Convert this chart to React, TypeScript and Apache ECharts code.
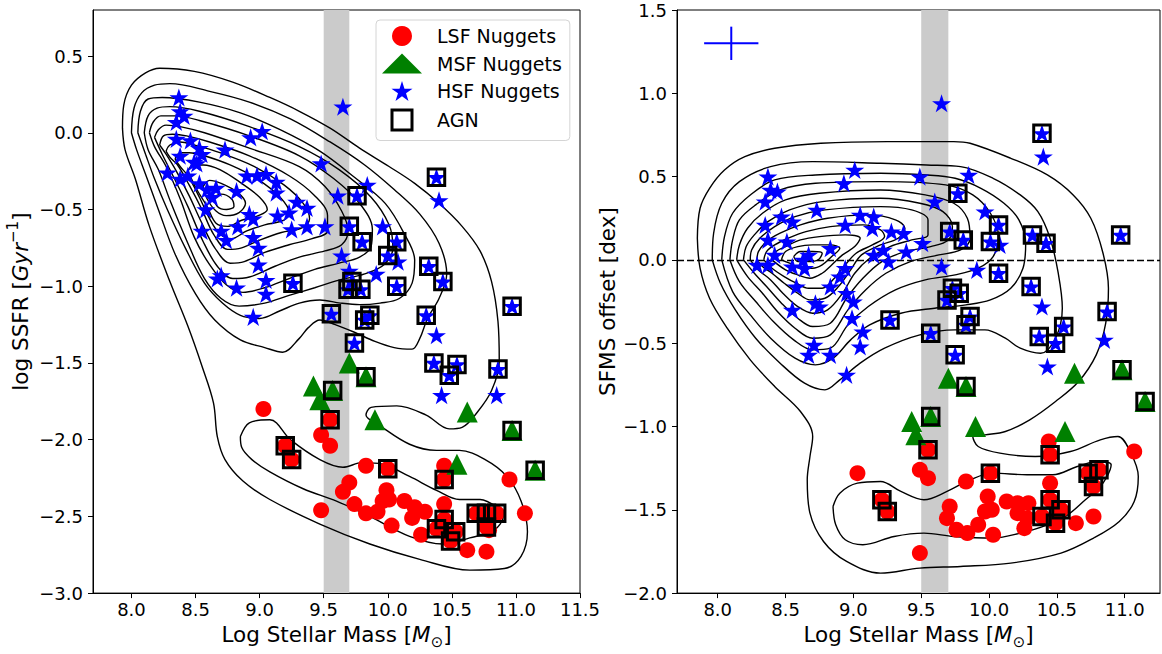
import React, { useEffect, useRef } from 'react';
import * as echarts from 'echarts';

const FF = 'DejaVu Sans';
const STAR = 'path://M0,-1L0.2245,-0.309L0.951,-0.309L0.363,0.118L0.588,0.809L0,0.382L-0.588,0.809L-0.363,0.118L-0.951,-0.309L-0.2245,-0.309Z';
const SQUARE = 'path://M0,0H10V10H0Z';

// ---------- ticks ----------
const xTicksLeft = [8.0, 8.5, 9.0, 9.5, 10.0, 10.5, 11.0, 11.5];
const yTicksLeft = [-3.0, -2.5, -2.0, -1.5, -1.0, -0.5, 0.0, 0.5];
const xTicksRight = [8.0, 8.5, 9.0, 9.5, 10.0, 10.5, 11.0];
const yTicksRight = [-2.0, -1.5, -1.0, -0.5, 0.0, 0.5, 1.0, 1.5];
const xRangeLeft = [7.7, 11.5];
const yRangeLeft = [-3.0, 0.8];
const xRangeRight = [7.7, 11.26];
const yRangeRight = [-2.0, 1.5];
const massBand = [9.5, 9.7];
const errCenter = [8.1, 1.3];
const errX = 0.2;
const errY = 0.1;

// ---------- left panel points (log M*, log SSFR) ----------
const hsfLeft = [[8.37,0.23],[8.38,0.14],[8.41,0.11],[8.35,0.07],[8.35,-0.04],[8.46,-0.05],[8.53,-0.10],[8.55,-0.14],[8.38,-0.15],[8.49,-0.19],[8.73,-0.11],[9.02,0.01],[8.93,-0.03],[8.28,-0.26],[8.38,-0.30],[8.44,-0.28],[8.51,-0.20],[8.53,-0.33],[8.59,-0.37],[8.66,-0.36],[8.63,-0.42],[8.58,-0.50],[8.82,-0.38],[8.90,-0.28],[8.98,-0.28],[9.05,-0.27],[9.13,-0.32],[9.13,-0.39],[8.55,-0.64],[8.70,-0.64],[8.74,-0.70],[8.83,-0.61],[8.92,-0.53],[8.95,-0.56],[8.95,-0.68],[8.99,-0.75],[8.99,-0.86],[8.67,-0.95],[8.70,-0.93],[8.82,-1.01],[9.05,-0.96],[9.05,-1.05],[8.95,-1.20],[9.14,-0.54],[9.23,-0.52],[9.29,-0.45],[9.37,-0.49],[9.25,-0.63],[9.37,-0.61],[9.51,-0.61],[9.48,-0.20],[9.65,0.17],[9.61,-0.41],[9.84,-0.34],[9.96,-0.61],[10.08,-0.84],[9.64,-0.80],[9.91,-0.92],[9.70,-0.90],[10.40,-0.44],[10.38,-1.32],[10.42,-1.71],[10.85,-1.71]];
const hsfAgnLeft = [[9.76,-0.41],[9.70,-0.61],[9.80,-0.71],[10.07,-0.71],[10.00,-0.80],[9.72,-0.97],[9.69,-1.02],[9.79,-1.02],[10.07,-1.00],[9.26,-0.98],[9.56,-1.18],[9.82,-1.22],[9.86,-1.19],[10.30,-1.19],[10.32,-0.87],[10.43,-0.97],[10.38,-0.29],[10.97,-1.13],[9.74,-1.37],[10.36,-1.50],[10.54,-1.51],[10.48,-1.58],[10.86,-1.54]];
const msfLeft = [[9.70,-1.50],[9.42,-1.65],[9.47,-1.74],[9.90,-1.87],[10.62,-1.82],[10.54,-2.16]];
const msfAgnLeft = [[9.83,-1.59],[9.57,-1.68],[10.97,-1.94],[11.15,-2.20]];
const lsfLeft = [[9.03,-1.80],[9.48,-1.97],[9.55,-2.04],[9.83,-2.17],[10.44,-2.17],[10.95,-2.26],[9.70,-2.28],[9.65,-2.34],[9.99,-2.33],[10.13,-2.40],[10.21,-2.44],[10.29,-2.47],[9.74,-2.42],[9.83,-2.48],[9.92,-2.47],[9.96,-2.40],[10.01,-2.39],[10.19,-2.51],[10.03,-2.56],[10.26,-2.62],[10.44,-2.42],[11.07,-2.48],[9.48,-2.46],[10.62,-2.72],[10.77,-2.73],[10.79,-2.59]];
const lsfAgnLeft = [[9.55,-1.87],[9.20,-2.04],[9.25,-2.13],[10.00,-2.19],[10.44,-2.26],[10.69,-2.48],[10.77,-2.48],[10.85,-2.48],[10.77,-2.57],[10.44,-2.52],[10.38,-2.58],[10.53,-2.60],[10.49,-2.66]];

// ---------- right panel points (log M*, SFMS offset) ----------
const hsfRight = [[9.65,0.94],[9.01,0.54],[8.93,0.46],[8.37,0.50],[8.39,0.42],[8.44,0.41],[8.35,0.35],[9.49,0.50],[9.85,0.51],[8.73,0.30],[8.47,0.26],[8.55,0.23],[8.35,0.21],[8.37,0.12],[8.51,0.11],[8.67,0.03],[8.63,0.00],[8.83,0.07],[8.94,0.21],[9.05,0.27],[9.15,0.26],[9.14,0.19],[9.28,0.17],[9.37,0.16],[9.51,0.10],[9.22,0.06],[9.15,0.03],[9.26,-0.01],[9.39,0.05],[8.42,0.03],[8.29,-0.03],[8.37,-0.03],[8.55,-0.04],[8.64,-0.05],[8.94,-0.05],[8.90,-0.10],[8.58,-0.16],[8.83,-0.16],[8.95,-0.20],[9.00,-0.25],[8.72,-0.26],[8.75,-0.28],[8.55,-0.30],[8.99,-0.35],[9.07,-0.43],[9.05,-0.52],[8.71,-0.51],[8.67,-0.57],[8.83,-0.57],[8.95,-0.69],[9.60,0.35],[9.65,-0.04],[9.91,-0.06],[9.97,0.29],[10.08,0.09],[10.40,0.62],[10.39,-0.28],[10.43,-0.64],[10.85,-0.48]];
const hsfAgnRight = [[9.77,0.40],[9.71,0.17],[9.81,0.12],[10.01,0.11],[10.07,0.21],[10.07,-0.08],[9.73,-0.17],[9.78,-0.20],[9.69,-0.24],[9.86,-0.34],[9.83,-0.39],[9.27,-0.36],[9.57,-0.44],[9.75,-0.57],[10.39,0.76],[10.32,0.15],[10.42,0.10],[10.31,-0.16],[10.37,-0.46],[10.49,-0.50],[10.55,-0.40],[10.87,-0.31],[10.97,0.15]];
const msfRight = [[9.70,-0.71],[9.43,-0.97],[9.46,-1.05],[9.90,-1.00],[10.63,-0.68],[10.56,-1.03]];
const msfAgnRight = [[9.83,-0.76],[9.57,-0.94],[10.98,-0.66],[11.15,-0.85]];
const lsfRight = [[9.03,-1.28],[11.07,-1.15],[10.44,-1.09],[9.49,-1.26],[9.55,-1.31],[9.83,-1.33],[10.45,-1.34],[9.71,-1.48],[9.69,-1.55],[9.76,-1.62],[9.84,-1.64],[9.99,-1.42],[9.97,-1.51],[10.02,-1.50],[9.92,-1.59],[10.03,-1.65],[10.13,-1.45],[10.21,-1.46],[10.29,-1.46],[10.21,-1.52],[10.28,-1.55],[10.26,-1.61],[10.64,-1.58],[10.77,-1.54],[9.49,-1.76]];
const lsfAgnRight = [[9.55,-1.14],[10.45,-1.17],[10.01,-1.28],[10.73,-1.28],[10.81,-1.26],[10.77,-1.36],[9.21,-1.44],[9.25,-1.51],[10.45,-1.44],[10.39,-1.54],[10.53,-1.50],[10.49,-1.58]];

// ---------- density contours, left panel ----------
const leftC1 = [[7.93,0.03],[7.94,0.18],[8.00,0.31],[8.11,0.39],[8.22,0.42],[8.49,0.40],[8.79,0.33],[9.08,0.23],[9.31,0.14],[9.55,0.03],[9.78,-0.10],[10.01,-0.22],[10.21,-0.33],[10.40,-0.46],[10.58,-0.61],[10.72,-0.77],[10.81,-0.97],[10.86,-1.23],[10.87,-1.49],[10.81,-1.68],[10.70,-1.82],[10.58,-1.92],[10.48,-1.93],[10.30,-1.84],[10.07,-1.78],[9.87,-1.79],[9.83,-1.84],[9.94,-1.91],[10.17,-2.03],[10.38,-2.07],[10.56,-2.07],[10.76,-2.13],[10.93,-2.24],[11.04,-2.40],[11.09,-2.60],[11.04,-2.76],[10.91,-2.84],[10.64,-2.85],[10.25,-2.78],[9.86,-2.68],[9.47,-2.55],[9.08,-2.39],[8.87,-2.27],[8.73,-2.13],[8.67,-1.98],[8.64,-1.76],[8.55,-1.52],[8.44,-1.26],[8.30,-0.97],[8.14,-0.61],[8.03,-0.30],[7.95,-0.11]];
const leftC2 = [[8.00,0.00],[8.02,0.16],[8.08,0.26],[8.18,0.31],[8.30,0.32],[8.61,0.27],[8.92,0.20],[9.24,0.09],[9.55,-0.06],[9.82,-0.21],[10.05,-0.37],[10.25,-0.53],[10.40,-0.72],[10.46,-0.92],[10.40,-1.08],[10.31,-1.21],[10.25,-1.34],[10.19,-1.41],[10.05,-1.40],[9.90,-1.36],[9.74,-1.30],[9.59,-1.25],[9.47,-1.22],[9.38,-1.27],[9.31,-1.34],[9.18,-1.43],[9.04,-1.40],[8.85,-1.35],[8.65,-1.22],[8.50,-1.05],[8.34,-0.79],[8.21,-0.50],[8.11,-0.27],[8.04,-0.11]];
const leftC3 = [[8.05,0.00],[8.07,0.14],[8.13,0.22],[8.24,0.23],[8.53,0.20],[8.85,0.13],[9.16,0.02],[9.47,-0.12],[9.74,-0.29],[9.98,-0.46],[10.13,-0.66],[10.21,-0.83],[10.19,-0.98],[10.09,-1.08],[9.94,-1.11],[9.78,-1.12],[9.63,-1.11],[9.47,-1.09],[9.31,-1.11],[9.16,-1.16],[9.00,-1.21],[8.85,-1.19],[8.71,-1.11],[8.57,-0.98],[8.42,-0.75],[8.28,-0.50],[8.18,-0.30],[8.11,-0.14]];
const leftC4 = [[8.10,0.00],[8.13,0.11],[8.20,0.16],[8.30,0.17],[8.53,0.14],[8.92,0.04],[9.31,-0.09],[9.62,-0.24],[9.87,-0.42],[10.01,-0.60],[10.04,-0.75],[9.97,-0.86],[9.82,-0.92],[9.62,-0.96],[9.43,-1.01],[9.23,-1.06],[9.04,-1.11],[8.84,-1.13],[8.70,-1.08],[8.57,-0.95],[8.44,-0.72],[8.31,-0.46],[8.21,-0.24],[8.13,-0.11]];
const leftC5 = [[8.14,0.00],[8.17,0.07],[8.23,0.11],[8.34,0.11],[8.53,0.08],[8.92,-0.02],[9.31,-0.15],[9.58,-0.30],[9.78,-0.46],[9.88,-0.63],[9.87,-0.74],[9.78,-0.81],[9.62,-0.85],[9.43,-0.89],[9.23,-0.95],[9.04,-1.01],[8.87,-1.04],[8.74,-0.99],[8.61,-0.86],[8.49,-0.68],[8.38,-0.43],[8.27,-0.22],[8.18,-0.09]];
const leftC6 = [[8.18,-0.03],[8.21,0.02],[8.27,0.05],[8.38,0.04],[8.57,0.00],[8.92,-0.10],[9.31,-0.22],[9.51,-0.35],[9.64,-0.51],[9.69,-0.64],[9.64,-0.73],[9.51,-0.77],[9.31,-0.81],[9.12,-0.87],[8.92,-0.94],[8.79,-0.95],[8.67,-0.87],[8.56,-0.71],[8.44,-0.48],[8.33,-0.29],[8.24,-0.14]];
const leftC7 = [[8.22,-0.08],[8.25,-0.02],[8.32,-0.01],[8.43,-0.02],[8.61,-0.06],[8.92,-0.15],[9.23,-0.28],[9.43,-0.41],[9.53,-0.54],[9.53,-0.64],[9.41,-0.69],[9.23,-0.73],[9.04,-0.78],[8.88,-0.84],[8.77,-0.85],[8.65,-0.75],[8.55,-0.59],[8.45,-0.41],[8.35,-0.25],[8.27,-0.14]];
const leftC8 = [[8.27,-0.12],[8.30,-0.08],[8.38,-0.06],[8.49,-0.08],[8.69,-0.13],[8.96,-0.22],[9.19,-0.34],[9.34,-0.46],[9.39,-0.56],[9.33,-0.62],[9.17,-0.65],[9.00,-0.70],[8.86,-0.75],[8.75,-0.76],[8.64,-0.66],[8.55,-0.50],[8.45,-0.34],[8.36,-0.21],[8.30,-0.16]];
const leftC9 = [[8.34,-0.17],[8.38,-0.13],[8.45,-0.13],[8.57,-0.15],[8.77,-0.21],[8.98,-0.30],[9.16,-0.42],[9.23,-0.52],[9.19,-0.57],[9.04,-0.60],[8.90,-0.64],[8.78,-0.69],[8.69,-0.66],[8.61,-0.56],[8.53,-0.42],[8.44,-0.28],[8.38,-0.22]];
const leftC10 = [[8.44,-0.25],[8.48,-0.21],[8.56,-0.21],[8.69,-0.24],[8.86,-0.33],[9.00,-0.42],[9.06,-0.50],[8.99,-0.54],[8.86,-0.57],[8.75,-0.61],[8.66,-0.59],[8.59,-0.48],[8.51,-0.37]];
const leftC11 = [[8.56,-0.35],[8.61,-0.31],[8.70,-0.33],[8.83,-0.39],[8.89,-0.46],[8.84,-0.52],[8.74,-0.54],[8.66,-0.51],[8.59,-0.43]];
const leftC12 = [[8.64,-0.42],[8.70,-0.40],[8.78,-0.43],[8.80,-0.48],[8.74,-0.50],[8.67,-0.48]];
const leftLow = [[8.85,-1.98],[8.92,-1.89],[9.08,-1.87],[9.24,-2.00],[9.47,-2.13],[9.65,-2.18],[9.80,-2.15],[9.96,-2.16],[10.17,-2.24],[10.38,-2.33],[10.56,-2.39],[10.72,-2.39],[10.85,-2.44],[10.90,-2.50],[10.83,-2.59],[10.64,-2.64],[10.43,-2.68],[10.17,-2.63],[9.86,-2.50],[9.60,-2.40],[9.34,-2.32],[9.08,-2.21],[8.94,-2.13],[8.86,-2.05]];

// ---------- density contours, right panel ----------
const rightR1 = [[7.85,0.13],[7.87,0.31],[7.94,0.43],[8.05,0.54],[8.20,0.62],[8.42,0.67],[8.76,0.70],[9.25,0.71],[9.74,0.71],[9.86,0.70],[10.16,0.61],[10.43,0.51],[10.62,0.39],[10.75,0.25],[10.84,0.04],[10.88,-0.17],[10.86,-0.38],[10.79,-0.57],[10.66,-0.73],[10.49,-0.85],[10.30,-0.96],[10.12,-1.03],[9.97,-1.05],[9.88,-1.06],[9.92,-1.12],[10.08,-1.16],[10.34,-1.18],[10.60,-1.15],[10.82,-1.08],[10.95,-1.06],[11.04,-1.15],[11.10,-1.30],[11.07,-1.45],[10.96,-1.57],[10.77,-1.67],[10.53,-1.76],[10.16,-1.82],[9.79,-1.84],[9.49,-1.85],[9.20,-1.88],[8.95,-1.81],[8.78,-1.69],[8.68,-1.52],[8.66,-1.32],[8.68,-1.18],[8.70,-1.06],[8.61,-0.91],[8.42,-0.76],[8.24,-0.60],[8.07,-0.41],[7.94,-0.23],[7.87,-0.05]];
const rightR2 = [[7.96,0.00],[7.97,0.16],[8.03,0.34],[8.16,0.47],[8.39,0.56],[8.70,0.59],[9.20,0.58],[9.54,0.57],[9.79,0.56],[10.03,0.49],[10.23,0.39],[10.36,0.29],[10.45,0.13],[10.51,-0.08],[10.54,-0.29],[10.49,-0.47],[10.38,-0.56],[10.23,-0.53],[10.12,-0.47],[9.97,-0.42],[9.75,-0.42],[9.49,-0.45],[9.23,-0.53],[9.05,-0.62],[8.90,-0.72],[8.79,-0.78],[8.64,-0.74],[8.46,-0.62],[8.28,-0.47],[8.13,-0.30],[8.02,-0.14]];
const rightR3 = [[8.03,0.00],[8.05,0.14],[8.11,0.28],[8.24,0.39],[8.42,0.48],[8.72,0.51],[9.20,0.52],[9.54,0.51],[9.75,0.49],[9.94,0.43],[10.11,0.34],[10.22,0.24],[10.27,0.10],[10.25,-0.05],[10.16,-0.17],[10.01,-0.24],[9.83,-0.27],[9.60,-0.29],[9.35,-0.32],[9.12,-0.39],[8.98,-0.48],[8.85,-0.59],[8.72,-0.63],[8.57,-0.59],[8.39,-0.47],[8.24,-0.33],[8.11,-0.19]];
const rightR4 = [[8.09,0.00],[8.11,0.12],[8.16,0.24],[8.28,0.33],[8.46,0.42],[8.72,0.46],[9.20,0.47],[9.68,0.45],[9.88,0.39],[10.01,0.28],[10.07,0.14],[10.03,0.02],[9.92,-0.05],[9.75,-0.09],[9.53,-0.12],[9.31,-0.18],[9.11,-0.28],[8.96,-0.39],[8.83,-0.53],[8.70,-0.54],[8.56,-0.48],[8.41,-0.37],[8.28,-0.25],[8.16,-0.13]];
const rightR5 = [[8.14,0.00],[8.16,0.09],[8.22,0.19],[8.33,0.28],[8.50,0.36],[8.75,0.40],[9.20,0.42],[9.53,0.39],[9.74,0.34],[9.84,0.25],[9.86,0.13],[9.79,0.06],[9.63,0.03],[9.42,-0.01],[9.24,-0.08],[9.09,-0.18],[8.96,-0.30],[8.83,-0.45],[8.70,-0.47],[8.57,-0.41],[8.44,-0.31],[8.33,-0.20],[8.22,-0.10]];
const rightR6 = [[8.19,0.00],[8.21,0.08],[8.27,0.15],[8.37,0.23],[8.53,0.30],[8.77,0.35],[9.20,0.37],[9.49,0.34],[9.66,0.29],[9.73,0.20],[9.70,0.12],[9.57,0.08],[9.38,0.05],[9.21,-0.01],[9.07,-0.11],[8.95,-0.23],[8.83,-0.38],[8.70,-0.40],[8.59,-0.35],[8.47,-0.26],[8.36,-0.16],[8.27,-0.08]];
const rightR7 = [[8.24,0.00],[8.25,0.06],[8.31,0.13],[8.42,0.20],[8.57,0.26],[8.79,0.30],[9.20,0.32],[9.43,0.30],[9.55,0.24],[9.55,0.15],[9.43,0.12],[9.27,0.08],[9.12,0.01],[9.01,-0.08],[8.92,-0.20],[8.81,-0.30],[8.70,-0.32],[8.59,-0.28],[8.48,-0.20],[8.39,-0.12],[8.30,-0.06]];
const rightR8 = [[8.29,0.00],[8.30,0.05],[8.36,0.11],[8.46,0.16],[8.61,0.21],[8.81,0.25],[9.12,0.27],[9.31,0.24],[9.38,0.19],[9.33,0.13],[9.20,0.09],[9.06,0.03],[8.98,-0.06],[8.89,-0.16],[8.79,-0.23],[8.68,-0.24],[8.59,-0.20],[8.49,-0.14],[8.40,-0.08],[8.33,-0.04]];
const rightR9 = [[8.34,0.00],[8.36,0.05],[8.42,0.09],[8.52,0.13],[8.65,0.17],[8.83,0.20],[9.07,0.21],[9.20,0.18],[9.23,0.14],[9.14,0.09],[9.02,0.04],[8.93,-0.04],[8.86,-0.11],[8.77,-0.17],[8.67,-0.17],[8.58,-0.14],[8.49,-0.10],[8.40,-0.05]];
const rightR10 = [[8.40,0.00],[8.43,0.05],[8.50,0.08],[8.61,0.12],[8.75,0.14],[8.94,0.15],[9.05,0.13],[9.01,0.08],[8.92,0.03],[8.84,-0.03],[8.77,-0.08],[8.68,-0.11],[8.59,-0.09],[8.50,-0.06]];
const rightR11 = [[8.47,0.00],[8.50,0.05],[8.59,0.08],[8.70,0.09],[8.83,0.09],[8.90,0.07],[8.84,0.02],[8.77,-0.03],[8.70,-0.05],[8.61,-0.05],[8.53,-0.02]];
const rightR12 = [[8.56,0.02],[8.61,0.05],[8.70,0.05],[8.77,0.04],[8.74,0.00],[8.67,-0.01],[8.59,-0.01]];
const rightLow = [[8.85,-1.48],[8.90,-1.40],[9.03,-1.34],[9.20,-1.33],[9.35,-1.39],[9.52,-1.44],[9.69,-1.39],[9.86,-1.32],[10.03,-1.28],[10.28,-1.29],[10.47,-1.29],[10.65,-1.24],[10.80,-1.21],[10.90,-1.23],[10.87,-1.30],[10.81,-1.37],[10.71,-1.44],[10.58,-1.53],[10.43,-1.59],[10.23,-1.64],[10.03,-1.67],[9.74,-1.66],[9.52,-1.64],[9.30,-1.66],[9.07,-1.71],[8.94,-1.68],[8.87,-1.59]];

const contoursLeft = [leftC1, leftC2, leftC3, leftC4, leftC5, leftC6, leftC7, leftC8, leftC9, leftC10, leftC11, leftC12, leftLow];
const contoursRight = [rightR1, rightR2, rightR3, rightR4, rightR5, rightR6, rightR7, rightR8, rightR9, rightR10, rightR11, rightR12, rightLow];

const closed = (c: number[][]) => [...c, c[0]];
const fmt = (v: number) => (Math.abs(v) < 1e-9 ? '0.0' : v.toFixed(1)).replace('-', '\u2212');

const rich = {
  n: { fontSize: 21.5, fontFamily: FF, color: '#000', lineHeight: 30, verticalAlign: 'middle' },
  i: { fontSize: 21.5, fontFamily: FF, fontStyle: 'italic', color: '#000', lineHeight: 30, verticalAlign: 'middle' },
  sub: { fontSize: 15, fontFamily: FF, color: '#000', lineHeight: 15, verticalAlign: 'bottom' },
  sup: { fontSize: 15, fontFamily: FF, color: '#000', lineHeight: 15, verticalAlign: 'top' },
};

function makeX(gridIndex: number, range: number[], ticks: number[]) {
  return {
    type: 'value', gridIndex, min: range[0], max: range[1],
    name: '{n|Log Stellar Mass [}{i|M}{sub|\u2299}{n|]}',
    nameLocation: 'middle', nameGap: 25,
    nameTextStyle: { rich, fontFamily: FF },
    axisLine: { show: true, onZero: false, lineStyle: { color: '#000', width: 1 } },
    axisTick: { show: true, inside: false, length: 5, customValues: ticks, lineStyle: { color: '#000', width: 1 } },
    axisLabel: { show: true, customValues: ticks, formatter: fmt, color: '#000', fontSize: 18, fontFamily: FF, margin: 7 },
    splitLine: { show: false },
  };
}
function makeY(gridIndex: number, range: number[], ticks: number[], name: string, gap: number) {
  return {
    type: 'value', gridIndex, min: range[0], max: range[1],
    name, nameLocation: 'middle', nameGap: gap, nameRotate: 90,
    nameTextStyle: { rich, fontFamily: FF },
    axisLine: { show: true, onZero: false, lineStyle: { color: '#000', width: 1 } },
    axisTick: { show: true, inside: false, length: 5, customValues: ticks, lineStyle: { color: '#000', width: 1 } },
    axisLabel: { show: true, customValues: ticks, formatter: fmt, color: '#000', fontSize: 18, fontFamily: FF, margin: 10 },
    splitLine: { show: false },
  };
}

function contourSeries(list: number[][][], idx: number) {
  return list.map((c) => ({
    type: 'line', xAxisIndex: idx, yAxisIndex: idx, data: closed(c),
    smooth: 0.35, symbol: 'none', showSymbol: false, silent: true, z: 2,
    lineStyle: { color: '#000', width: 1.4 },
  }));
}

function pointSeries(idx: number, lsf: number[][], lsfA: number[][], msf: number[][], msfA: number[][], hsf: number[][], hsfA: number[][]) {
  return [
    { name: 'LSF Nuggets', type: 'scatter', xAxisIndex: idx, yAxisIndex: idx, data: lsf.concat(lsfA), symbol: 'circle', symbolSize: 16, itemStyle: { color: '#ff0000', opacity: 1 }, z: 4, silent: true },
    { name: 'MSF Nuggets', type: 'scatter', xAxisIndex: idx, yAxisIndex: idx, data: msf.concat(msfA), symbol: 'triangle', symbolSize: 21, itemStyle: { color: '#008000', opacity: 1 }, z: 5, silent: true },
    { name: 'HSF Nuggets', type: 'scatter', xAxisIndex: idx, yAxisIndex: idx, data: hsf.concat(hsfA), symbol: STAR, symbolSize: 19, symbolKeepAspect: true, itemStyle: { color: '#0000ff', opacity: 1 }, z: 6, silent: true },
    { name: 'AGN', type: 'scatter', xAxisIndex: idx, yAxisIndex: idx, data: lsfA.concat(msfA, hsfA), symbol: 'rect', symbolSize: 16.5, itemStyle: { color: 'rgba(0,0,0,0)', borderColor: '#000', borderWidth: 3, opacity: 1 }, z: 7, silent: true },
  ];
}

function bandSeries(idx: number) {
  return {
    type: 'line', xAxisIndex: idx, yAxisIndex: idx, data: [], z: 0, silent: true, symbol: 'none',
    markArea: { silent: true, itemStyle: { color: '#cbcbcb', opacity: 1 }, data: [[{ xAxis: massBand[0] }, { xAxis: massBand[1] }]] },
  };
}

const option = {
  animation: false,
  backgroundColor: '#fff',
  grid: [
    { left: 93, top: 10, width: 487, height: 587, show: true, borderColor: '#000', borderWidth: 1, backgroundColor: 'transparent' },
    { left: 677, top: 10, width: 483, height: 587, show: true, borderColor: '#000', borderWidth: 1, backgroundColor: 'transparent' },
  ],
  xAxis: [makeX(0, xRangeLeft, xTicksLeft), makeX(1, xRangeRight, xTicksRight)],
  yAxis: [
    makeY(0, yRangeLeft, yTicksLeft, '{n|log SSFR [}{i|Gyr}{sup|\u22121}{n|]}', 58),
    makeY(1, yRangeRight, yTicksRight, '{n|SFMS offset [dex]}', 55),
  ],
  legend: {
    show: true, orient: 'vertical', left: 376, top: 20,
    padding: [6, 8, 9, 6], itemWidth: 40, itemHeight: 20, itemGap: 7.5,
    backgroundColor: '#fff', borderColor: '#d4d4d4', borderWidth: 1, borderRadius: 4,
    selectedMode: false,
    textStyle: { fontSize: 19, fontFamily: FF, color: '#000', padding: [0, 0, 0, 10] },
    data: [
      { name: 'LSF Nuggets' },
      { name: 'MSF Nuggets' },
      { name: 'HSF Nuggets' },
      { name: 'AGN', icon: SQUARE, itemStyle: { color: 'rgba(0,0,0,0)', borderColor: '#000', borderWidth: 3 } },
    ],
  },
  series: [
    bandSeries(0),
    bandSeries(1),
    ...contourSeries(contoursLeft, 0),
    ...contourSeries(contoursRight, 1),
    {
      type: 'line', xAxisIndex: 1, yAxisIndex: 1, data: [], z: 3, silent: true, symbol: 'none',
      markLine: { silent: true, symbol: 'none', label: { show: false }, lineStyle: { color: '#000', type: [7, 3], width: 1.3 }, data: [{ yAxis: 0 }] },
    },
    ...pointSeries(0, lsfLeft, lsfAgnLeft, msfLeft, msfAgnLeft, hsfLeft, hsfAgnLeft),
    ...pointSeries(1, lsfRight, lsfAgnRight, msfRight, msfAgnRight, hsfRight, hsfAgnRight),
    {
      type: 'line', xAxisIndex: 1, yAxisIndex: 1, symbol: 'none', silent: true, z: 8,
      data: [[errCenter[0] - errX, errCenter[1]], [errCenter[0] + errX, errCenter[1]]],
      lineStyle: { color: '#0000ff', width: 2 },
    },
    {
      type: 'line', xAxisIndex: 1, yAxisIndex: 1, symbol: 'none', silent: true, z: 8,
      data: [[errCenter[0], errCenter[1] - errY], [errCenter[0], errCenter[1] + errY]],
      lineStyle: { color: '#0000ff', width: 2 },
    },
  ],
};

export default function App() {
  const ref = useRef<HTMLDivElement>(null);
  useEffect(() => {
    const chart = echarts.init(ref.current as HTMLDivElement, null, { renderer: 'svg' });
    chart.setOption(option as any);
    return () => chart.dispose();
  }, []);
  return <div ref={ref} style={{ position: 'fixed', left: 0, top: 0, width: 1162, height: 654, background: '#fff' }} />;
}
